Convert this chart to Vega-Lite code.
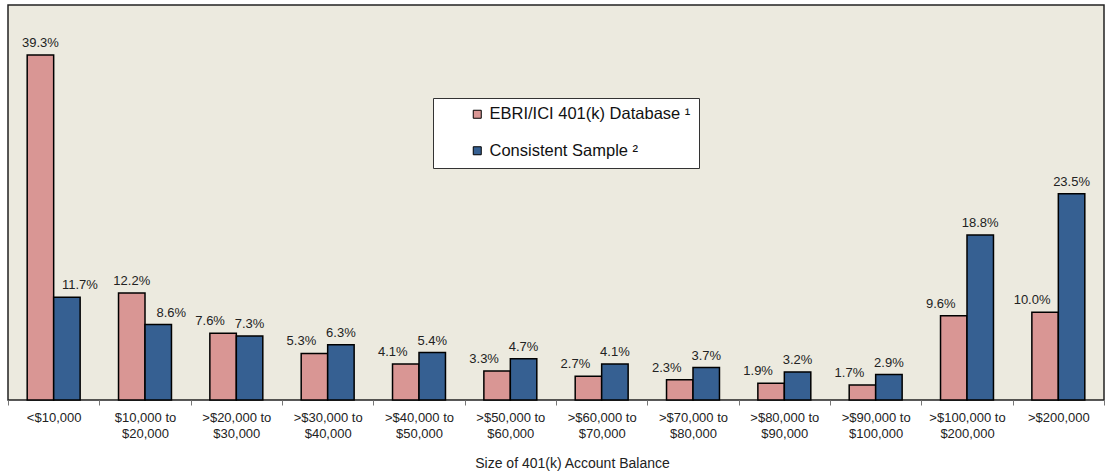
{
  "$schema": "https://vega.github.io/schema/vega-lite/v6.json",
  "width": 1096,
  "height": 395,
  "autosize": {"type": "none"},
  "padding": {"left": 8, "top": 5, "right": 1, "bottom": 74},
  "background": "#FFFFFF",
  "config": {
    "font": "Liberation Sans",
    "view": {"fill": "#ECEADF", "stroke": "#222222", "strokeWidth": 1.5},
    "legend": {
      "orient": "none",
      "legendX": 425,
      "legendY": 93,
      "fillColor": "#FFFFFF",
      "strokeColor": "#333333",
      "padding": 8,
      "symbolOffset": 28,
      "symbolType": "square",
      "symbolSize": 64,
      "symbolStrokeColor": "#000000",
      "symbolStrokeWidth": 1,
      "labelFontSize": 16.5,
      "labelColor": "#111111",
      "labelFont": "Liberation Sans",
      "labelOffset": 4,
      "rowPadding": 19.5,
      "labelLimit": 400
    }
  },
  "data": {
    "values": [
      {"category": "<$10,000", "series": "EBRI/ICI 401(k) Database ¹", "value": 39.3},
      {"category": "<$10,000", "series": "Consistent Sample ²", "value": 11.7},
      {"category": "$10,000 to|$20,000", "series": "EBRI/ICI 401(k) Database ¹", "value": 12.2},
      {"category": "$10,000 to|$20,000", "series": "Consistent Sample ²", "value": 8.6},
      {"category": ">$20,000 to|$30,000", "series": "EBRI/ICI 401(k) Database ¹", "value": 7.6},
      {"category": ">$20,000 to|$30,000", "series": "Consistent Sample ²", "value": 7.3},
      {"category": ">$30,000 to|$40,000", "series": "EBRI/ICI 401(k) Database ¹", "value": 5.3},
      {"category": ">$30,000 to|$40,000", "series": "Consistent Sample ²", "value": 6.3},
      {"category": ">$40,000 to|$50,000", "series": "EBRI/ICI 401(k) Database ¹", "value": 4.1},
      {"category": ">$40,000 to|$50,000", "series": "Consistent Sample ²", "value": 5.4},
      {"category": ">$50,000 to|$60,000", "series": "EBRI/ICI 401(k) Database ¹", "value": 3.3},
      {"category": ">$50,000 to|$60,000", "series": "Consistent Sample ²", "value": 4.7},
      {"category": ">$60,000 to|$70,000", "series": "EBRI/ICI 401(k) Database ¹", "value": 2.7},
      {"category": ">$60,000 to|$70,000", "series": "Consistent Sample ²", "value": 4.1},
      {"category": ">$70,000 to|$80,000", "series": "EBRI/ICI 401(k) Database ¹", "value": 2.3},
      {"category": ">$70,000 to|$80,000", "series": "Consistent Sample ²", "value": 3.7},
      {"category": ">$80,000 to|$90,000", "series": "EBRI/ICI 401(k) Database ¹", "value": 1.9},
      {"category": ">$80,000 to|$90,000", "series": "Consistent Sample ²", "value": 3.2},
      {"category": ">$90,000 to|$100,000", "series": "EBRI/ICI 401(k) Database ¹", "value": 1.7},
      {"category": ">$90,000 to|$100,000", "series": "Consistent Sample ²", "value": 2.9},
      {"category": ">$100,000 to|$200,000", "series": "EBRI/ICI 401(k) Database ¹", "value": 9.6},
      {"category": ">$100,000 to|$200,000", "series": "Consistent Sample ²", "value": 18.8},
      {"category": ">$200,000", "series": "EBRI/ICI 401(k) Database ¹", "value": 10.0},
      {"category": ">$200,000", "series": "Consistent Sample ²", "value": 23.5}
    ]
  },
  "transform": [
    {"calculate": "format(datum.value, '.1f') + '%'", "as": "label"},
    {"calculate": "datum.category === '<$10,000' || datum.category === '$10,000 to|$20,000'", "as": "first"},
    {"calculate": "datum.series === 'EBRI/ICI 401(k) Database ¹'", "as": "isPink"}
  ],
  "encoding": {
    "x": {
      "field": "category",
      "type": "nominal",
      "sort": null,
      "scale": {"paddingInner": 0, "paddingOuter": 0},
      "axis": {
        "title": "Size of 401(k) Account Balance",
        "titleFontSize": 14,
        "titleFontWeight": "normal",
        "titleColor": "#222222",
        "titleX": 564,
        "titleY": 67,
        "titleBaseline": "alphabetic",
        "titleAlign": "center",
        "domain": false,
        "tickBand": "extent",
        "tickSize": 5,
        "tickColor": "#777777",
        "tickWidth": 1,
        "labelAngle": 0,
        "labelFontSize": 13,
        "labelColor": "#222222",
        "labelPadding": 6,
        "labelLineHeight": 16,
        "labelExpr": "split(datum.label, '|')"
      }
    },
    "xOffset": {
      "field": "series",
      "type": "nominal",
      "sort": ["EBRI/ICI 401(k) Database ¹", "Consistent Sample ²"],
      "scale": {"paddingInner": 0, "paddingOuter": 0.725}
    },
    "y": {
      "field": "value",
      "type": "quantitative",
      "scale": {"domain": [0, 45], "nice": false},
      "axis": null
    }
  },
  "layer": [
    {
      "mark": {"type": "bar", "stroke": "#000000", "strokeWidth": 1.5},
      "encoding": {
        "color": {
          "field": "series",
          "type": "nominal",
          "sort": ["EBRI/ICI 401(k) Database ¹", "Consistent Sample ²"],
          "scale": {
            "domain": ["EBRI/ICI 401(k) Database ¹", "Consistent Sample ²"],
            "range": ["#D99694", "#366092"]
          },
          "legend": {"title": null}
        }
      }
    },
    {
      "transform": [{"filter": "datum.isPink === datum.first"}],
      "mark": {"type": "text", "fontSize": 13, "color": "#222222", "baseline": "alphabetic", "dy": -8},
      "encoding": {"text": {"field": "label", "type": "nominal"}}
    },
    {
      "transform": [{"filter": "datum.isPink && !datum.first"}],
      "mark": {"type": "text", "fontSize": 13, "color": "#222222", "baseline": "alphabetic", "dy": -8, "dx": -13},
      "encoding": {"text": {"field": "label", "type": "nominal"}}
    },
    {
      "transform": [{"filter": "!datum.isPink && datum.first"}],
      "mark": {"type": "text", "fontSize": 13, "color": "#222222", "baseline": "alphabetic", "dy": -8, "dx": 13},
      "encoding": {"text": {"field": "label", "type": "nominal"}}
    }
  ]
}
